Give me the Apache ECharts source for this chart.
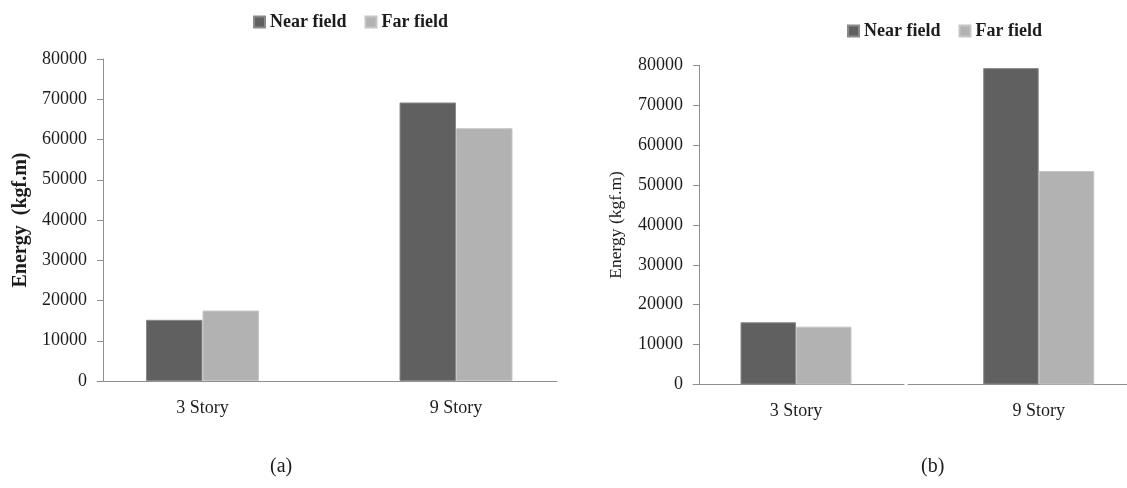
<!DOCTYPE html>
<html>
<head>
<meta charset="utf-8">
<title>Energy: Near field vs Far field</title>
<script src="https://cdn.jsdelivr.net/npm/echarts@6/dist/echarts.min.js"></script>
<style>
  html, body { margin: 0; padding: 0; background: #ffffff; }
  #chart { width: 1127px; height: 488px; }
</style>
</head>
<body>
<div id="chart"></div>
<script>
// Building heights compared in both panels
const categories = ['3 Story', '9 Story'];

// Panel (a) energy values, kgf.m
const nearFieldA = [15200, 69200];
const farFieldA = [17500, 62800];

// Panel (b) energy values, kgf.m
const nearFieldB = [15600, 79300];
const farFieldB = [14500, 53500];

// Value axis range shared by both panels
const yMin = 0;
const yMax = 80000;
const yStep = 10000;

const panelCaptions = ['(a)', '(b)'];
const seriesNames = ['Near field', 'Far field'];

const FONT = '"Liberation Serif", "Times New Roman", serif';
const AXIS_COLOR = '#8f8f8f';
const TEXT_COLOR = '#1c1c1c';
const NEAR_COLOR = '#606060';
const FAR_COLOR = '#b2b2b2';

// Category index positions on a numeric x axis, so groups can sit off-centre
const categoryIndex = categories.map((_, i) => i);
const pairs = (values) => values.map((v, i) => [categoryIndex[i], v]);

const chart = echarts.init(document.getElementById('chart'), null, { renderer: 'canvas' });

function valueAxis(gridIndex, name, bold, nameSize, nameGap) {
  return {
    type: 'value',
    gridIndex: gridIndex,
    min: yMin,
    max: yMax,
    interval: yStep,
    name: name,
    nameLocation: 'middle',
    nameGap: nameGap,
    nameRotate: 90,
    nameTextStyle: {
      fontFamily: FONT,
      fontSize: nameSize,
      fontWeight: bold ? 'bold' : 'normal',
      color: TEXT_COLOR
    },
    axisLine: { show: true, onZero: false, lineStyle: { color: AXIS_COLOR, width: 1 } },
    axisTick: { show: true, length: 6, lineStyle: { color: AXIS_COLOR, width: 1 } },
    axisLabel: {
      margin: 16,
      fontFamily: FONT,
      fontSize: 18,
      color: TEXT_COLOR,
      formatter: (v) => String(v)
    },
    splitLine: { show: false }
  };
}

// Numeric x axis carrying the category names at the group centres
function groupAxis(gridIndex, min, max) {
  return {
    type: 'value',
    gridIndex: gridIndex,
    min: min,
    max: max,
    axisLine: { show: false, onZero: false },
    axisTick: { show: false },
    splitLine: { show: false },
    axisLabel: {
      customValues: categoryIndex,
      margin: 18,
      fontFamily: FONT,
      fontSize: 18,
      color: TEXT_COLOR,
      formatter: (v) => categories[Math.round(v)]
    }
  };
}

// Plain baseline drawn under a plot
function baselineAxis(gridIndex) {
  return {
    type: 'category',
    gridIndex: gridIndex,
    data: categories,
    axisLine: { show: true, lineStyle: { color: AXIS_COLOR, width: 1 } },
    axisTick: { show: false },
    axisLabel: { show: false }
  };
}

function hiddenValueAxis(gridIndex) {
  return { type: 'value', gridIndex: gridIndex, show: false, min: yMin, max: yMax };
}

function barSeries(name, data, axisIndex, color, border, width) {
  return {
    name: name,
    type: 'bar',
    xAxisIndex: axisIndex,
    yAxisIndex: axisIndex,
    data: pairs(data),
    barWidth: width,
    barGap: '0%',
    itemStyle: { color: color, borderColor: border, borderWidth: 1 },
    emphasis: { disabled: true },
    silent: true
  };
}

function legend(left, top) {
  return {
    data: seriesNames,
    left: left,
    top: top,
    itemWidth: 11,
    itemHeight: 11,
    itemGap: 18,
    icon: 'rect',
    selectedMode: false,
    textStyle: { fontFamily: FONT, fontSize: 18, fontWeight: 'bold', color: TEXT_COLOR }
  };
}

const option = {
  backgroundColor: '#ffffff',
  animation: false,
  legend: [legend(248, 8), legend(842, 17)],
  grid: [
    { left: 103, width: 454, top: 59, height: 322 },      // (a) plot
    { left: 97, width: 460, top: 59, height: 322 },       // (a) baseline
    { left: 699, width: 428, top: 65.3, height: 319.2 },  // (b) plot
    { left: 693, width: 211, top: 65.3, height: 319.2 },  // (b) baseline, left part
    { left: 908, width: 219, top: 65.3, height: 319.2 }   // (b) baseline, right part
  ],
  xAxis: [
    groupAxis(0, -0.3925, 1.3984),
    baselineAxis(1),
    groupAxis(2, -0.3997, 1.3638),
    baselineAxis(3),
    baselineAxis(4)
  ],
  yAxis: [
    valueAxis(0, 'Energy  (kgf.m)', true, 20, 72),
    hiddenValueAxis(1),
    valueAxis(2, 'Energy (kgf.m)', false, 17.5, 74),
    hiddenValueAxis(3),
    hiddenValueAxis(4)
  ],
  series: [
    barSeries('Near field', nearFieldA, 0, NEAR_COLOR, '#8a8a8a', 56.5),
    barSeries('Far field', farFieldA, 0, FAR_COLOR, '#c6c6c6', 56.5),
    barSeries('Near field', nearFieldB, 2, NEAR_COLOR, '#8a8a8a', 55.5),
    barSeries('Far field', farFieldB, 2, FAR_COLOR, '#c6c6c6', 55.5)
  ],
  graphic: [
    {
      type: 'text', left: 270, top: 457,
      style: { text: panelCaptions[0], font: '20px ' + FONT, fill: TEXT_COLOR }
    },
    {
      type: 'text', left: 921, top: 457,
      style: { text: panelCaptions[1], font: '20px ' + FONT, fill: TEXT_COLOR }
    }
  ]
};

chart.setOption(option);
</script>
</body>
</html>
